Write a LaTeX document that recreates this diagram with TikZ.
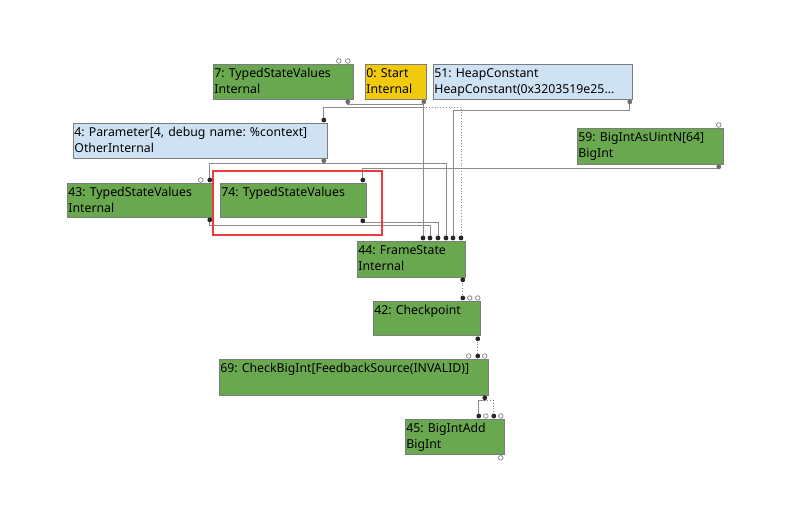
\documentclass[tikz,border=0pt]{standalone}
\usepackage{fontspec}
\setmainfont{Noto Sans}
\frenchspacing
\usetikzlibrary{positioning,calc}
\definecolor{NodeGreen}{RGB}{106,168,79}
\definecolor{NodeYellow}{RGB}{241,201,13}
\definecolor{NodeBlue}{RGB}{207,226,243}
\definecolor{EdgeGray}{RGB}{140,140,140}
\definecolor{BorderGray}{RGB}{125,125,125}
\definecolor{PortGray}{RGB}{110,110,110}
\definecolor{AlertRed}{RGB}{240,58,58}

\begin{document}
\begin{tikzpicture}[x=1pt,y=-1pt,
    irnode/.style={draw=BorderGray,line width=0.8pt,fill=NodeGreen,anchor=north west,
      align=left,inner xsep=1pt,inner ysep=0pt,text height=13.5pt,text depth=21.5pt,
      font=\fontsize{12.3}{16}\selectfont},
    edge/.style={EdgeGray,line width=0.8pt},
    effect/.style={EdgeGray,line width=0.8pt,dotted},
    openport/.style={draw=PortGray,fill=white,line width=0.6pt}]
  \useasboundingbox (0,0) rectangle (786,531);

  % Top row
  \node[irnode,text width=138pt] (n7) at (213,64) {7: TypedStateValues\\Internal};
  \node[irnode,text width=59pt,fill=NodeYellow] (start) at (365,64) {0: Start\\Internal};
  \node[irnode,text width=197pt,fill=NodeBlue] (n51) at (433,64)
    {51: HeapConstant\\HeapConstant(0x3203519e25…};
  \node[irnode,text width=252pt,fill=NodeBlue] (param) at (73,123)
    {4: Parameter[4, debug name: \%context]\\OtherInternal};
  \node[irnode,text width=144pt,text depth=22.5pt] (n59) at (577,128) {59: BigIntAsUintN[64]\\BigInt};
  % State values
  \node[irnode,text width=143pt,text depth=20.5pt] (n43) at (67,183) {43: TypedStateValues\\Internal};
  \node[irnode,text width=144pt,text depth=20.5pt] (n74) at (220,183) {74: TypedStateValues};
  % Chain down
  \node[irnode,text width=106pt,text depth=22.5pt] (fs) at (357,241) {44: FrameState\\Internal};
  \node[irnode,text width=105pt,text depth=20.5pt] (n42) at (373,301) {42: Checkpoint};
  \node[irnode,text width=267pt,text depth=22.5pt] (n69) at (219,359)
    {69: CheckBigInt[FeedbackSource(INVALID)]};
  \node[irnode,text width=97pt] (n45) at (405,419) {45: BigIntAdd\\BigInt};

  % Ports
  \coordinate (n7-out) at ($(n7.south east)+(-6,2)$);
  \coordinate (start-out) at ($(start.south east)+(-3,2)$);
  \coordinate (n51-out) at ($(n51.south east)+(-3,2)$);
  \coordinate (param-in) at ($(param.north east)+(-4,-3)$);
  \coordinate (param-out) at ($(param.south east)+(-4,2)$);
  \coordinate (n59-out) at ($(n59.south east)+(-5,2)$);
  \coordinate (n43-in) at ($(n43.north east)+(-3,-3)$);
  \coordinate (n43-out) at ($(n43.south east)+(-3,2)$);
  \coordinate (n74-in) at ($(n74.north east)+(-4,-3)$);
  \coordinate (n74-out) at ($(n74.south east)+(-4,3)$);
  \foreach \i/\dx in {1/66,2/73,3/81,4/89,5/96,6/104}
    \coordinate (fs-in\i) at ($(fs.north west)+(\dx,-3)$);
  \coordinate (fs-out) at ($(fs.south east)+(-3,2)$);
  \coordinate (n42-in) at ($(n42.north east)+(-18,-3)$);
  \coordinate (n42-out) at ($(n42.south east)+(-3,3)$);
  \coordinate (n69-in) at ($(n69.north east)+(-11,-3)$);
  \coordinate (n69-out) at ($(n69.south east)+(-4,2)$);
  \coordinate (n45-in1) at ($(n45.north east)+(-26,-3)$);
  \coordinate (n45-in3) at ($(n45.north east)+(-11,-3)$);

  % Edges
  \draw[effect] (start-out) -- ++(0,6) -| (fs-in6);
  \draw[edge] (start-out) -- ++(0,6) -| (param-in);
  \draw[edge] (n7-out) -- ++(0,3) -| (fs-in1);
  \draw[edge] (n51-out) -- ++(0,9) -| (fs-in5);
  \draw[edge] (param-out) -- ++(0,3) -| (n43-in);
  \draw[edge] (param-out) -- ++(0,3) -| (fs-in4);
  \draw[edge] (n59-out) -- ++(0,2) -| (n74-in);
  \draw[edge] (n74-out) -- ++(0,2) -| (fs-in3);
  \draw[edge] (n43-out) -- ++(0,6) -| (fs-in2);
  \draw[effect] (fs-out) -- (n42-in);
  \draw[effect] (n42-out) -- (n69-in);
  \draw[edge] (n69-out) -- ++(0,3) -| (n45-in1);
  \draw[effect] (n69-out) -- ++(0,3) -| (n45-in3);

  % Port dots
  \foreach \p in {n7-out,start-out,n51-out,param-out,n59-out}
    \fill[PortGray] (\p) circle (2.4);
  \foreach \p in {param-in,n43-in,n43-out,n74-in,n74-out,fs-in1,fs-in2,fs-in3,fs-in4,
      fs-in5,fs-in6,fs-out,n42-in,n42-out,n69-in,n69-out,n45-in1,n45-in3}
    \fill[black!85] (\p) circle (2.4);
  \foreach \a/\dx/\dy in {n7.north east/-15/-3,n7.north east/-6/-3,n59.north east/-5/-3,
      n43.north east/-12/-3,n42.north east/-11/-3,n42.north east/-3/-3,
      n69.north east/-20/-3,n69.north east/-4/-3,n45.north east/-19/-3,
      n45.north east/-4/-3,n45.south east/-4/3}
    \filldraw[openport] ($(\a)+(\dx,\dy)$) circle (2.3);

  % Highlight
  \draw[AlertRed,line width=2pt] ($(n74.north west)+(-7,-12)$) rectangle ($(n74.south east)+(15,17)$);
\end{tikzpicture}
\end{document}
